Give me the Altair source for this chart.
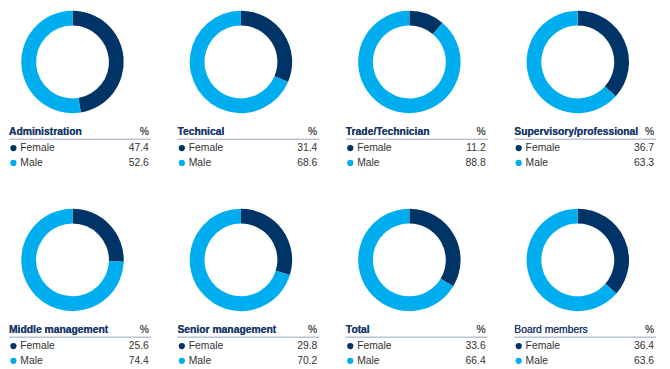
import altair as alt
import pandas as pd

categories = ["Administration", "Technical", "Trade/Technician", "Supervisory/professional",
              "Middle management", "Senior management", "Total", "Board members"]
female = [47.4, 31.4, 11.2, 36.7, 25.6, 29.8, 33.6, 36.4]
male = [52.6, 68.6, 88.8, 63.3, 74.4, 70.2, 66.4, 63.6]
bold_title = [True, True, True, True, True, True, True, False]
genders = ["Female", "Male"]

NAVY = "#003366"
LIGHT = "#00aeef"
TITLE = "#1b3a6b"
FONT = "Liberation Sans"

color_scale = alt.Scale(domain=genders, range=[NAVY, LIGHT])


def panel(i, width, height):
    df = pd.DataFrame({
        "gender": genders,
        "value": [female[i], male[i]],
        "idx": [0, 1],
        "label": [f"{female[i]:.1f}", f"{male[i]:.1f}"],
    })
    base = alt.Chart(df)
    yrow = alt.Y("gender:N", scale=alt.Scale(type="point", domain=genders, range=[139.5, 154.5],
                                             padding=0), axis=None)

    arc = base.mark_arc(outerRadius=52, innerRadius=37).encode(
        theta=alt.Theta("value:Q", stack=True),
        color=alt.Color("gender:N", scale=color_scale, legend=None),
        order=alt.Order("idx:Q"),
        x=alt.value(64.5),
        y=alt.value(52),
    )
    title = base.mark_text(
        text=categories[i], align="left", baseline="middle", font=FONT, fontSize=10.5,
        fontWeight="bold" if bold_title[i] else "normal", color=TITLE,
    ).encode(x=alt.value(0), y=alt.value(123.5))
    pct = base.mark_text(
        text="%", align="right", baseline="middle", font=FONT, fontSize=10.5, color="#555555",
    ).encode(x=alt.value(142), y=alt.value(123.5))
    rule = base.mark_rule(color="#b4bfcf", strokeWidth=1).encode(
        x=alt.value(0), x2=alt.value(144), y=alt.value(130.5)
    )
    dots = base.mark_point(filled=True, size=40, opacity=1, shape="circle").encode(
        x=alt.value(4.5), y=yrow,
        color=alt.Color("gender:N", scale=color_scale, legend=None),
    )
    labels = base.mark_text(align="left", baseline="middle", font=FONT, fontSize=10.5,
                            color="#333333").encode(
        x=alt.value(11.5), y=yrow, text="gender:N"
    )
    values = base.mark_text(align="right", baseline="middle", font=FONT, fontSize=10.5,
                            color="#333333").encode(
        x=alt.value(142), y=yrow, text="label:N"
    )
    return alt.layer(arc, rule, title, pct, dots, labels, values).properties(
        width=width, height=height
    )


widths = [170, 170, 170, 150]
row1 = alt.hconcat(*[panel(i, widths[i], 201) for i in range(4)], spacing=0)
row2 = alt.hconcat(*[panel(i + 4, widths[i], 160) for i in range(4)], spacing=0)

chart = alt.vconcat(row1, row2, spacing=0).configure_view(stroke=None).properties(
    padding=0
)

chart.save("out.html", embed_options={"renderer": "svg", "actions": False})
